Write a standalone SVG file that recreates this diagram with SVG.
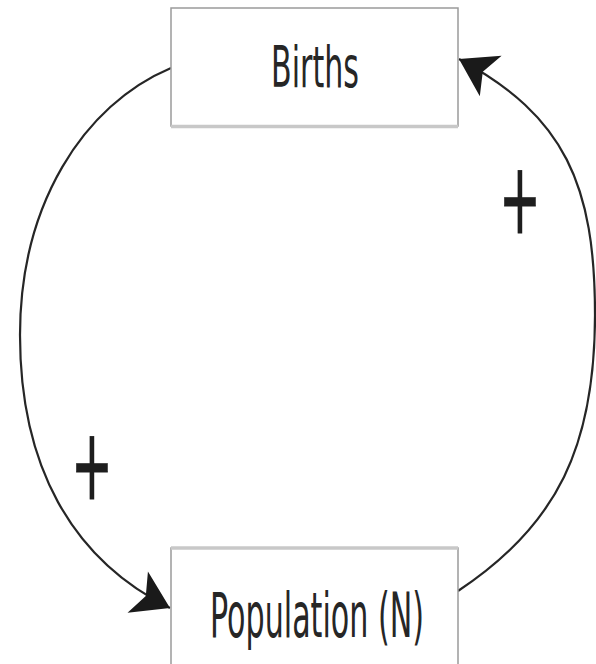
<svg xmlns="http://www.w3.org/2000/svg" width="596" height="664" viewBox="0 0 596 664">
<defs>
<style>
.box{fill:#fff;stroke:#9a9a9a;stroke-width:1.5}
.shadow{stroke:#c8c8c8;stroke-width:3.5}
.lbl{font-family:"DejaVu Sans","Verdana",sans-serif;fill:#262626;text-anchor:middle}
.plus{font-family:"DejaVu Sans","Verdana",sans-serif;fill:#1e1e1e;stroke:#1e1e1e;stroke-width:0.8;text-anchor:middle;font-size:100px}
.link{fill:none;stroke:#262626;stroke-width:2.2}
</style>
<marker id="arr" markerUnits="userSpaceOnUse" viewBox="-38 -25 40 50" refX="0" refY="0" markerWidth="40" markerHeight="50" orient="auto" overflow="visible">
<path d="M0,0 L-36,-23 L-27,0 L-36,23 Z" fill="#1a1a1a"/>
</marker>
</defs>
<rect width="596" height="664" fill="#fff"/>
<g id="connectors">
<path class="link" d="M171,68 C83,105 20,205 20,335 C20,465 71,559 170,608" marker-end="url(#arr)"/>
<path class="link" d="M458,591 C558,525 595,445 595,315 C595,185 565,116 459,59" marker-end="url(#arr)"/>
</g>
<g id="births">
<rect class="box" x="171" y="8" width="287" height="118"/>
<line class="shadow" x1="171" y1="126.5" x2="458" y2="126.5"/>
<text class="lbl" x="315" y="87" font-size="57.6" textLength="88" lengthAdjust="spacingAndGlyphs">Births</text>
</g>
<g id="population">
<rect class="box" x="171" y="548" width="287" height="130"/>
<line class="shadow" x1="171" y1="548" x2="458" y2="548"/>
<text class="lbl" x="317" y="637" font-size="62" textLength="214" lengthAdjust="spacingAndGlyphs">Population (N)</text>
</g>
<g id="plus-right">
<text class="plus" transform="translate(520,233) scale(0.5,1)" x="0" y="0">+</text>
</g>
<g id="plus-left">
<text class="plus" transform="translate(92,499) scale(0.5,1)" x="0" y="0">+</text>
</g>
</svg>
